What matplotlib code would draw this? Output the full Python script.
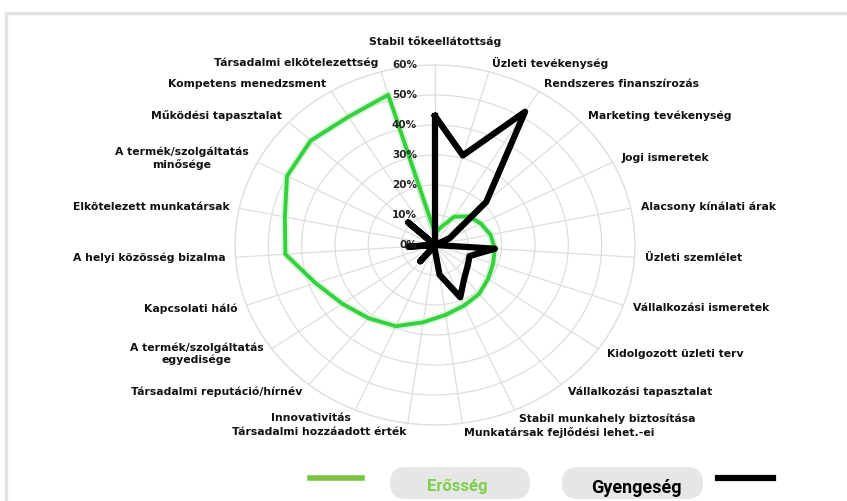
import numpy as np
import matplotlib.pyplot as plt
import matplotlib.patheffects as pe
from matplotlib.lines import Line2D
from matplotlib.patches import FancyBboxPatch, Rectangle
from matplotlib.transforms import IdentityTransform

# Categories clockwise from the top
categories = [
    'Stabil tőkeellátottság', 'Üzleti tevékenység', 'Rendszeres finanszírozás',
    'Marketing tevékenység', 'Jogi ismeretek', 'Alacsony kínálati árak',
    'Üzleti szemlélet', 'Vállalkozási ismeretek', 'Kidolgozott üzleti terv',
    'Vállalkozási tapasztalat', 'Stabil munkahely biztosítása',
    'Munkatársak fejlődési lehet.-ei', 'Társadalmi hozzáadott érték',
    'Innovativitás', 'Társadalmi reputáció/hírnév',
    'A termék/szolgáltatás\negyedisége', 'Kapcsolati háló',
    'A helyi közösség bizalma', 'Elkötelezett munkatársak',
    'A termék/szolgáltatás\nminősége', 'Működési tapasztalat',
    'Kompetens menedzsment', 'Társadalmi elkötelezettség',
]

# values in %
erosseg = [4, 6, 11, 14, 15.5, 17, 18, 18.5, 19.5, 21, 22, 23.5,
           26, 29.5, 31.5, 34, 38, 45, 46, 50, 51, 50, 52]
gyengeseg = [43, 31, 52, 21, 5, 0, 18, 11, 12, 14, 19, 10,
             1, 0, 7, 0, 0, 8, 0, 0, 11, 0, 0]

r_ticks = [0, 10, 20, 30, 40, 50, 60]
legend_labels = ['Erősség', 'Gyengeség']

green = '#35d040'
n = len(categories)
angles = np.arange(n) * 2 * np.pi / n

fig = plt.figure(figsize=(8.47, 5.01), dpi=100)
ax = fig.add_axes([235 / 847, 76 / 501, 400 / 847, 360 / 501], projection='polar')
ax.set_aspect('auto')
ax.set_theta_zero_location('N')
ax.set_theta_direction(-1)
ax.set_ylim(0, 60)
ax.set_xticks(angles)
ax.set_xticklabels([])
ax.set_yticks(r_ticks[1:])
ax.set_yticklabels([])
ax.grid(color='#dedede', lw=0.9)
ax.spines['polar'].set_color('#dedede')
ax.spines['polar'].set_linewidth(0.9)

closed = np.append(angles, angles[0])
ax.plot(closed, erosseg + erosseg[:1], color=green, lw=2.8, solid_joinstyle='round',
        path_effects=[pe.Stroke(linewidth=5.5, foreground='#c4f2c0', alpha=0.6), pe.Normal()])
ax.plot(closed, gyengeseg + gyengeseg[:1], color='black', lw=4.5, solid_joinstyle='round')

# radial labels left of the vertical axis
for v in r_ticks:
    ax.annotate(f'{v}%', xy=(0, v), xytext=(-13, 0), textcoords='offset points',
                ha='right', va='center', fontsize=7.5, fontweight='bold', color='#222222')

# category labels
for ang, name in zip(angles, categories):
    deg = np.degrees(ang)
    r = 63
    if np.isclose(deg, 0):
        ha, va, r = 'center', 'bottom', 66
    elif deg < 180:
        ha, va = 'left', 'center'
    else:
        ha, va = 'right', 'center'
    ax.text(ang, r, name, ha=ha, va=va, fontsize=7.8, fontweight='bold',
            multialignment='center', color='#111111')

# chart border
fig.add_artist(Rectangle((6, -10), 900, 498, transform=IdentityTransform(),
                         fill=False, ec='#e2e2e2', lw=2.5))

# legend
y_line = 501 - 478
fig.add_artist(Line2D([310, 362], [y_line, y_line], transform=IdentityTransform(),
                      color='#7cc242', lw=4))
fig.add_artist(Line2D([718, 773], [y_line, y_line], transform=IdentityTransform(),
                      color='black', lw=4.5))
for x0, w in [(390, 140), (562, 141)]:
    fig.add_artist(FancyBboxPatch((x0, 2), w, 32, transform=IdentityTransform(),
                                  boxstyle='round,pad=0,rounding_size=16',
                                  fc='#e6e6e6', ec='none'))
fig.text(457 / 847, 1 - 487 / 501, legend_labels[0], ha='center', va='center',
         fontsize=12, fontweight='bold', family='Roboto', color='#7ed04a')
fig.text(636 / 847, 1 - 488 / 501, legend_labels[1], ha='center', va='center',
         fontsize=13, fontweight='bold', family='Roboto', color='black')

fig.savefig('out.png', dpi=100)
